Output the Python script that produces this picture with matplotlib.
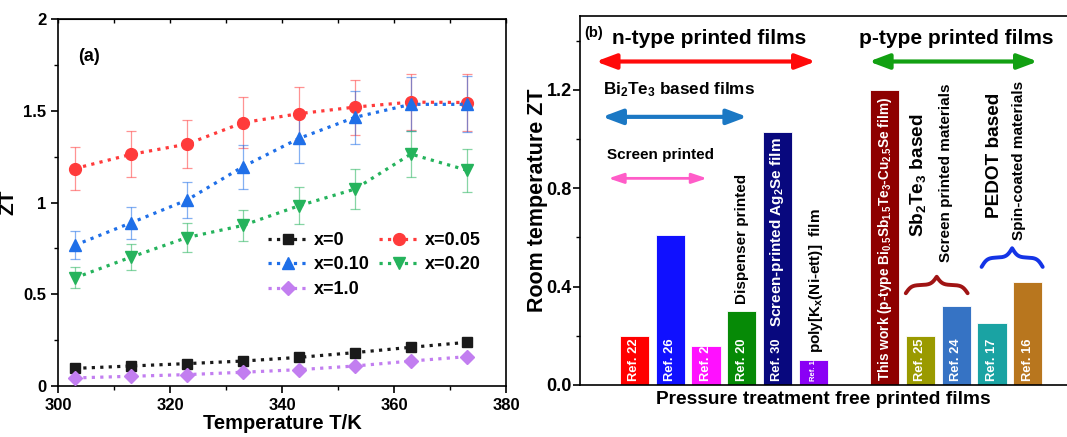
import numpy as np
import matplotlib
matplotlib.use("Agg")
import matplotlib.pyplot as plt
from matplotlib.ticker import MultipleLocator, FuncFormatter

plt.rcParams['font.family'] = ['Liberation Sans', 'DejaVu Sans']
plt.rcParams['font.weight'] = 'bold'
plt.rcParams['mathtext.fontset'] = 'custom'
plt.rcParams['mathtext.rm'] = 'Liberation Sans:bold'
plt.rcParams['mathtext.bf'] = 'Liberation Sans:bold'
plt.rcParams['mathtext.it'] = 'Liberation Sans:bold:italic'
plt.rcParams['mathtext.default'] = 'rm'

# ---------------- data: panel (a) ----------------
temperature = [303, 313, 323, 333, 343, 353, 363, 373]
zt_x0 = [0.096, 0.109, 0.122, 0.136, 0.156, 0.182, 0.211, 0.238]
zt_x005 = [1.185, 1.262, 1.318, 1.435, 1.484, 1.520, 1.547, 1.545]
err_x005 = [0.117, 0.125, 0.130, 0.140, 0.145, 0.150, 0.153, 0.153]
zt_x010 = [0.767, 0.889, 1.013, 1.195, 1.349, 1.464, 1.535, 1.535]
err_x010 = [0.075, 0.087, 0.100, 0.120, 0.135, 0.146, 0.147, 0.152]
zt_x020 = [0.589, 0.702, 0.809, 0.875, 0.982, 1.073, 1.264, 1.176]
err_x020 = [0.057, 0.070, 0.077, 0.085, 0.100, 0.107, 0.126, 0.117]
zt_x1 = [0.044, 0.053, 0.062, 0.075, 0.089, 0.109, 0.136, 0.160]
series_labels = ['x=0', 'x=0.05', 'x=0.10', 'x=0.20', 'x=1.0']

# ---------------- data: panel (b) ----------------
bar_pos = [1, 2, 3, 4, 5, 6, 8, 9, 10, 11, 12]
bar_zt = [0.20, 0.61, 0.16, 0.30, 1.03, 0.10, 1.20, 0.20, 0.32, 0.25, 0.42]
bar_text = ['Ref. 22', 'Ref. 26', 'Ref. 25', 'Ref. 20', 'Ref. 30', 'Ref. 15',
            r'This work (p-type Bi$_{0.5}$Sb$_{1.5}$Te$_{3}$-Cu$_{2.5}$Se film)',
            'Ref. 25', 'Ref. 24', 'Ref. 17', 'Ref. 16']
bar_colors = ['#ff0000', '#1010ff', '#ff10ff', '#068a06', '#08087e', '#8a00f5',
              '#8e0000', '#9a9a00', '#3673c4', '#1aa3a3', '#b8761e']

fig = plt.figure(figsize=(10.67, 4.37), dpi=100)

# ======================= panel (a) =======================
ax = fig.add_axes([0.0544, 0.1167, 0.4199, 0.8398])
styles = [
    (zt_x0, None, '#1a1a1a', 's', 6.5),
    (zt_x005, err_x005, '#ff3b3b', 'o', 8.5),
    (zt_x010, err_x010, '#1f6fe8', '^', 9),
    (zt_x020, err_x020, '#25b35c', 'v', 9),
    (zt_x1, None, '#c27ef0', 'D', 7.5),
]
handles = []
for (vals, err, col, mk, ms), lab in zip(styles, series_labels):
    if err is not None:
        ax.errorbar(temperature, vals, yerr=err, fmt='none', ecolor=col,
                    elinewidth=0.9, capsize=3.5, capthick=0.9, alpha=0.55, zorder=2)
    h, = ax.plot(temperature, vals, linestyle=':', lw=2.3, color=col,
                 marker=mk, markersize=ms, markeredgecolor=col, label=lab, zorder=3)
    handles.append(h)

ax.set_xlim(300, 380)
ax.set_ylim(0, 2)
ax.xaxis.set_major_locator(MultipleLocator(20))
ax.xaxis.set_minor_locator(MultipleLocator(10))
ax.yaxis.set_major_locator(MultipleLocator(0.5))
ax.yaxis.set_minor_locator(MultipleLocator(0.25))
ax.yaxis.set_major_formatter(FuncFormatter(lambda v, p: '%g' % v))
ax.tick_params(which='major', direction='out', length=5, width=1.2, labelsize=12)
ax.tick_params(which='minor', direction='out', length=3, width=1.0)
for lbl in ax.get_xticklabels() + ax.get_yticklabels():
    lbl.set_fontweight('bold')
for s in ax.spines.values():
    s.set_linewidth(1.2)
top = ax.secondary_xaxis('top')
top.xaxis.set_major_locator(MultipleLocator(10))
top.tick_params(direction='in', length=3, width=1.0, labeltop=False)
ax.set_xlabel('Temperature T/K', fontsize=14.5, fontweight='bold', labelpad=1)
ax.set_ylabel('ZT', fontsize=15, fontweight='bold', labelpad=4)
ax.text(0.045, 0.885, '(a)', transform=ax.transAxes, fontsize=13, fontweight='bold')

order = [0, 2, 4, 1, 3]
ax.legend([handles[i] for i in order], [series_labels[i] for i in order], ncol=2,
          frameon=False, loc='upper left', bbox_to_anchor=(0.468, 0.42), borderaxespad=0,
          borderpad=0, handlelength=2.3, handletextpad=0.25, columnspacing=0.5,
          labelspacing=0.42, prop={'weight': 'bold', 'size': 13})

# ======================= panel (b) =======================
bx = fig.add_axes([0.5436, 0.119, 0.4564, 0.8444])
bx.bar(bar_pos, bar_zt, width=0.82, color=bar_colors, edgecolor='white', linewidth=0.6, zorder=2)
bx.set_xlim(-0.523, 13.1)
bx.set_ylim(0, 1.5)
bx.set_xticks([])
bx.yaxis.set_major_locator(MultipleLocator(0.4))
bx.yaxis.set_minor_locator(MultipleLocator(0.2))
bx.yaxis.set_major_formatter(FuncFormatter(lambda v, p: '%.1f' % v))
bx.tick_params(which='major', direction='out', length=5, width=1.2, labelsize=13, pad=1)
bx.tick_params(which='minor', direction='out', length=3, width=1.0)
for lbl in bx.get_yticklabels():
    lbl.set_fontweight('bold')
bx.spines['right'].set_visible(False)
for s in ['left', 'top', 'bottom']:
    bx.spines[s].set_linewidth(1.2)
bx.set_xlabel('Pressure treatment free printed films', fontsize=13.8, fontweight='bold', labelpad=4)
bx.set_ylabel('Room temperature ZT', fontsize=15.5, fontweight='bold')
bx.yaxis.set_label_coords(-0.066, 0.5)

# texts inside bars
for i, (p, t) in enumerate(zip(bar_pos, bar_text)):
    fs = 9.3
    if t == 'Ref. 15':
        fs = 5.5
    if i == 6:
        fs = 9.8
    bx.text(p, 0.015, t, rotation=90, ha='center', va='bottom', color='white',
            fontsize=fs, fontweight='bold', zorder=3)
bx.text(5, 0.235, r'Screen-printed Ag$_{2}$Se film', rotation=90, ha='center', va='bottom',
        color='white', fontsize=11, fontweight='bold', zorder=3)
bx.text(4, 0.33, 'Dispenser printed', rotation=90, ha='center', va='bottom',
        fontsize=11, fontweight='bold')
bx.text(6.07, 0.13, r'poly[K$_{x}$(Ni-ett)]  film', rotation=90, ha='center', va='bottom',
        fontsize=11, fontweight='bold')
bx.text(8.92, 0.60, r'Sb$_{2}$Te$_{3}$ based', rotation=90, ha='center', va='bottom',
        fontsize=13.7, fontweight='bold')
bx.text(9.71, 0.50, 'Screen printed materials', rotation=90, ha='center', va='bottom',
        fontsize=11, fontweight='bold')
bx.text(11.07, 0.68, 'PEDOT based', rotation=90, ha='center', va='bottom',
        fontsize=13.7, fontweight='bold')
bx.text(11.77, 0.59, 'Spin-coated materials', rotation=90, ha='center', va='bottom',
        fontsize=11, fontweight='bold')

# headers
bx.text(-0.40, 1.43, '(b)', fontsize=10.5, fontweight='bold', va='center')
bx.text(3.10, 1.41, 'n-type printed films', fontsize=15, fontweight='bold', ha='center', va='center')
bx.text(10.0, 1.41, 'p-type printed films', fontsize=15, fontweight='bold', ha='center', va='center')
bx.text(0.13, 1.20, r'Bi$_{2}$Te$_{3}$ based films', fontsize=12.3, fontweight='bold', ha='left', va='center')
bx.text(0.24, 0.935, 'Screen printed', fontsize=11, fontweight='bold', ha='left', va='center')


def darrow(x0, x1, y, col, lw, hl, hw):
    bx.annotate('', xy=(x1, y), xytext=(x0, y),
                arrowprops=dict(arrowstyle='<|-|>,head_length=%g,head_width=%g' % (hl, hw),
                                lw=lw, color=col, shrinkA=0, shrinkB=0, mutation_scale=10))


darrow(-0.08, 6.07, 1.315, '#ff0a0a', 3.0, 1.2, 0.45)
darrow(7.56, 12.28, 1.315, '#12a012', 3.0, 1.2, 0.45)
darrow(0.10, 4.15, 1.09, '#1b78c4', 3.0, 1.2, 0.45)
darrow(0.27, 3.03, 0.84, '#ff5cc8', 2.0, 0.9, 0.3)


def brace(x0, x1, y0, y1, col, lw):
    n = 401
    t = np.linspace(0, 1, n)
    half = t[: n // 2 + 1]
    beta = 22.0
    yh = 1 / (1 + np.exp(-beta * (half - half[0]))) + 1 / (1 + np.exp(-beta * (half - half[-1])))
    ys = np.concatenate([yh, yh[-2::-1]])
    ys = (ys - ys.min()) / (ys.max() - ys.min())
    xs = x0 + (x1 - x0) * t
    bx.plot(xs, y0 + (y1 - y0) * ys, color=col, lw=lw, solid_capstyle='round', clip_on=False)


brace(8.59, 10.32, 0.373, 0.44, '#a01414', 2.8)
brace(10.71, 12.42, 0.48, 0.556, '#1434e6', 2.8)

fig.savefig('out.png', dpi=100)
